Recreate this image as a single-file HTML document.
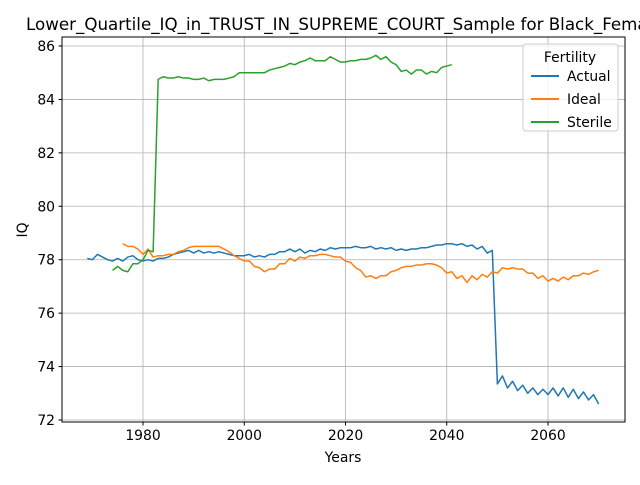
<!DOCTYPE html>
<html><head><meta charset="utf-8"><style>
body{margin:0;background:#fff;}
svg text{font-family:"DejaVu Sans","Liberation Sans",sans-serif;}
</style></head><body>
<svg id="chart" width="640" height="480" xmlns="http://www.w3.org/2000/svg">
<rect width="640" height="480" fill="#fff"/>
<text x="26" y="30" font-size="16.7" fill="#000">Lower_Quartile_IQ_in_TRUST_IN_SUPREME_COURT_Sample for Black_Females</text>
<g id="grid"></g>
<g id="series"></g>
<rect x="62" y="37" width="563" height="385" fill="none" stroke="#000" stroke-width="1"/>
<g id="axes"></g>
<text x="343" y="462" font-size="13.9" text-anchor="middle">Years</text>
<text transform="translate(27,230) rotate(-90)" font-size="13.9" text-anchor="middle">IQ</text>
<g>
<rect x="523" y="44" width="95" height="87" rx="3" fill="#fff" fill-opacity="0.8" stroke="#ccc"/>
<text x="570" y="62" font-size="13.9" text-anchor="middle">Fertility</text>
<g><line x1="531" x2="559" y1="76" y2="76" stroke="#1f77b4" stroke-width="2"/><text x="567" y="81" font-size="13.9">Actual</text></g>
<g><line x1="531" x2="559" y1="99" y2="99" stroke="#ff7f0e" stroke-width="2"/><text x="567" y="104" font-size="13.9">Ideal</text></g>
<g><line x1="531" x2="559" y1="122" y2="122" stroke="#2ca02c" stroke-width="2"/><text x="567" y="127" font-size="13.9">Sterile</text></g>
</g>
</svg>
<script>
const xTicks=[1980,2000,2020,2040,2060];
const yTicks=[72,74,76,78,80,82,84,86];
const actualStart=1969;
const actualValues=[78.05,78.0,78.2,78.1,78.0,77.95,78.05,77.95,78.1,78.15,78.0,77.95,78.0,77.95,78.05,78.05,78.1,78.2,78.25,78.3,78.35,78.25,78.35,78.25,78.3,78.25,78.3,78.25,78.2,78.15,78.15,78.15,78.2,78.1,78.15,78.1,78.2,78.2,78.3,78.3,78.4,78.3,78.4,78.25,78.35,78.3,78.4,78.35,78.45,78.4,78.45,78.45,78.45,78.5,78.45,78.45,78.5,78.4,78.45,78.4,78.45,78.35,78.4,78.35,78.4,78.4,78.45,78.45,78.5,78.55,78.55,78.6,78.6,78.55,78.6,78.5,78.55,78.4,78.5,78.25,78.35,73.35,73.65,73.2,73.45,73.1,73.3,73.0,73.2,72.95,73.15,72.95,73.2,72.9,73.2,72.85,73.15,72.8,73.05,72.75,72.95,72.6];
const idealStart=1976;
const idealValues=[78.6,78.5,78.5,78.4,78.2,78.4,78.1,78.15,78.15,78.2,78.2,78.3,78.35,78.45,78.5,78.5,78.5,78.5,78.5,78.5,78.4,78.3,78.15,78.05,77.95,77.95,77.75,77.7,77.55,77.65,77.65,77.85,77.85,78.05,77.95,78.1,78.05,78.15,78.15,78.2,78.2,78.15,78.1,78.1,77.95,77.9,77.7,77.6,77.35,77.4,77.3,77.4,77.4,77.55,77.6,77.7,77.75,77.75,77.8,77.8,77.85,77.85,77.8,77.7,77.5,77.55,77.3,77.4,77.15,77.4,77.25,77.45,77.35,77.55,77.5,77.7,77.65,77.7,77.65,77.65,77.5,77.5,77.3,77.4,77.2,77.3,77.2,77.35,77.25,77.4,77.4,77.5,77.45,77.55,77.6];
const sterileStart=1974;
const sterileValues=[77.6,77.75,77.6,77.55,77.85,77.85,78.0,78.35,78.3,84.75,84.85,84.8,84.8,84.85,84.8,84.8,84.75,84.75,84.8,84.7,84.75,84.75,84.75,84.8,84.85,85.0,85.0,85.0,85.0,85.0,85.0,85.1,85.15,85.2,85.25,85.35,85.3,85.4,85.45,85.55,85.45,85.45,85.45,85.6,85.5,85.4,85.4,85.45,85.45,85.5,85.5,85.55,85.65,85.5,85.6,85.4,85.3,85.05,85.1,84.95,85.1,85.1,84.95,85.05,85.0,85.2,85.25,85.3];

const X=y=>143+(y-1980)*(548-143)/80;
const Y=v=>420-(v-72)*(420-46)/14;
const NS="http://www.w3.org/2000/svg";
const grid=document.getElementById('grid'),axes=document.getElementById('axes'),ser=document.getElementById('series');
function mk(tag,attrs,parent){const e=document.createElementNS(NS,tag);for(const k in attrs)e.setAttribute(k,attrs[k]);parent.appendChild(e);return e;}
xTicks.forEach(t=>{const x=X(t);
 const g=mk('line',{x1:x,x2:x,y1:37,y2:422,stroke:'#b0b0b0','stroke-width':0.8},grid);
 
 
 mk('line',{x1:x,x2:x,y1:422,y2:425.5,stroke:'#000'},axes);
 const tx=mk('text',{x:x,y:440,'font-size':13.9,'text-anchor':'middle'},axes);tx.textContent=t;
 
 
});
yTicks.forEach(t=>{const y=Y(t);
 const g=mk('line',{x1:62,x2:625,y1:y,y2:y,stroke:'#b0b0b0','stroke-width':0.8},grid);
 
 
 mk('line',{x1:58.5,x2:62,y1:y,y2:y,stroke:'#000'},axes);
 const tx=mk('text',{x:55,y:y+5,'font-size':13.9,'text-anchor':'end'},axes);tx.textContent=t;
 
 
});
function line(start,vals,color,name){
 const pts=vals.map((v,i)=>X(start+i).toFixed(2)+','+Y(v).toFixed(2)).join(' ');
 const p=mk('polyline',{points:pts,fill:'none',stroke:color,'stroke-width':1.5,'stroke-linejoin':'round'},ser);
 
 
}
line(actualStart,actualValues,'#1f77b4','actual-line');
line(idealStart,idealValues,'#ff7f0e','ideal-line');
line(sterileStart,sterileValues,'#2ca02c','sterile-line');
</script>
</body></html>
